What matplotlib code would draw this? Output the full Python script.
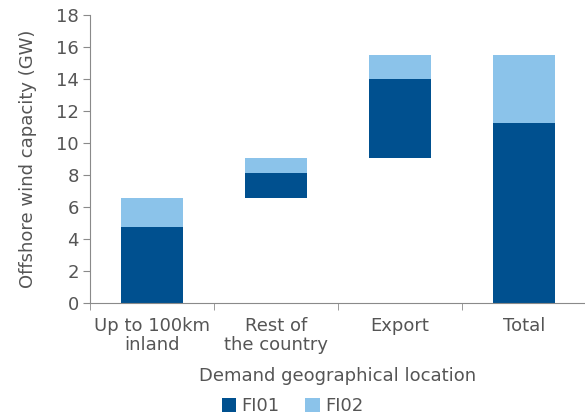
import matplotlib
matplotlib.use("Agg")
import matplotlib.pyplot as plt
import numpy as np

categories = ["Up to 100km\ninland", "Rest of\nthe country", "Export", "Total"]
fi01 = [4.73, 1.58, 4.92, 11.27]
fi02 = [1.83, 0.94, 1.50, 4.23]
series_names = ["FI01", "FI02"]
yticks = [0, 2, 4, 6, 8, 10, 12, 14, 16, 18]

c_dark = "#00508F"
c_light = "#8BC3EA"
txt = "#555555"
axc = "#8a8a8a"
fs = 13

plt.rcParams['font.family'] = ['DejaVu Sans']
fig = plt.figure(figsize=(5.85, 4.19), dpi=100)
ax = fig.add_axes([90/585, 1-303/419, 496/585, 288/419])

x = np.arange(len(categories))
# waterfall bottoms: cumulative for steps, zero for total
bottoms = []
cum = 0.0
for i in range(len(categories)):
    if i == len(categories) - 1:
        bottoms.append(0.0)
    else:
        bottoms.append(cum)
        cum += fi01[i] + fi02[i]
bottoms = np.array(bottoms)
w = 0.5
ax.bar(x, fi01, w, bottom=bottoms, color=c_dark, label=series_names[0])
ax.bar(x, fi02, w, bottom=bottoms + np.array(fi01), color=c_light, label=series_names[1])

ax.set_xlim(-0.5, len(categories) - 0.5)
ax.set_ylim(0, 18)
ax.set_yticks(yticks)
ax.set_xticks(x)
ax.set_xticklabels(categories, fontsize=fs, color=txt, linespacing=1.1)
ax.set_xticks(np.arange(-0.5, len(categories) - 0.5, 1.0), minor=True)
ax.tick_params(axis='x', which='major', length=0, pad=10)
ax.tick_params(axis='x', which='minor', length=5, color=axc, direction='out')
ax.tick_params(axis='y', labelsize=fs, labelcolor=txt, length=5, color=axc, pad=3)
for s in ['top', 'right']:
    ax.spines[s].set_visible(False)
for s in ['left', 'bottom']:
    ax.spines[s].set_color(axc)
ax.set_ylabel("Offshore wind capacity (GW)", fontsize=fs, color=txt, labelpad=14)
ax.set_xlabel("Demand geographical location", fontsize=fs, color=txt, labelpad=9)

leg = fig.legend(loc='center', bbox_to_anchor=(0.5, 1-406/419), ncol=2, frameon=False,
                 fontsize=fs, handlelength=0.8, handleheight=0.8, handletextpad=0.3,
                 columnspacing=1.4, labelcolor=txt)

fig.savefig("out.png", dpi=100)
